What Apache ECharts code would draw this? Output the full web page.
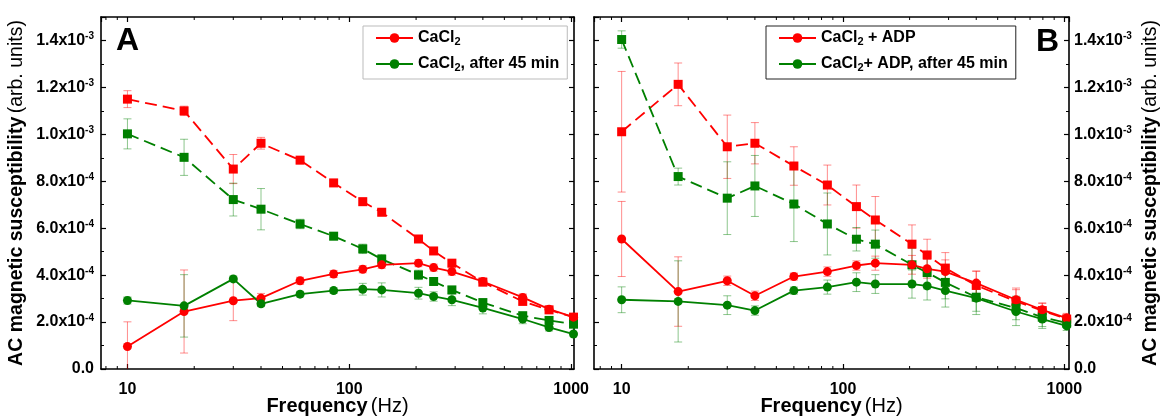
<!DOCTYPE html>
<html>
<head>
<meta charset="utf-8">
<script src="https://cdn.jsdelivr.net/npm/echarts@6/dist/echarts.min.js"></script>
<style>
  html, body { margin: 0; padding: 0; background: #fff; }
  #chart { width: 1162px; height: 416px; }
</style>
</head>
<body>
<div id="chart"></div>
<script>
// Measurement frequencies (Hz), shared by all curves
const frequencies = [10, 18, 30, 40, 60, 85, 115, 140, 205, 240, 290, 400, 605, 795, 1025];

// Susceptibility values in units of 10^-3 (arb. units)
// Panel A: CaCl2
const cacl2Squares      = [1.150, 1.100, 0.852, 0.962, 0.890, 0.793, 0.713, 0.668, 0.554, 0.503, 0.451, 0.370, 0.288, 0.252, 0.221];
const cacl2SquaresErr   = [0.036, 0.020, 0.062, 0.025, 0.015, 0.010, 0.015, 0.015, 0.015, 0.012, 0.012, 0.012, 0.012, 0.012, 0.010];
const cacl2LateSquares  = [1.002, 0.902, 0.722, 0.681, 0.618, 0.566, 0.512, 0.468, 0.401, 0.373, 0.337, 0.283, 0.227, 0.207, 0.191];
const cacl2LateSqErr    = [0.064, 0.077, 0.070, 0.088, 0.020, 0.015, 0.020, 0.020, 0.020, 0.015, 0.015, 0.015, 0.015, 0.015, 0.010];
const cacl2Circles      = [0.096, 0.245, 0.291, 0.302, 0.376, 0.405, 0.425, 0.444, 0.451, 0.432, 0.415, 0.373, 0.305, 0.255, 0.221];
const cacl2CirclesErr   = [0.105, 0.177, 0.085, 0.020, 0.015, 0.015, 0.015, 0.015, 0.015, 0.015, 0.015, 0.015, 0.015, 0.012, 0.010];
const cacl2LateCircles  = [0.292, 0.269, 0.384, 0.278, 0.319, 0.334, 0.340, 0.337, 0.323, 0.309, 0.295, 0.260, 0.213, 0.177, 0.149];
const cacl2LateCiErr    = [0.015, 0.133, 0.012, 0.012, 0.012, 0.012, 0.025, 0.030, 0.025, 0.020, 0.025, 0.025, 0.020, 0.015, 0.010];

// Panel B: CaCl2 + ADP
const adpSquares        = [1.011, 1.213, 0.947, 0.962, 0.865, 0.784, 0.692, 0.635, 0.532, 0.486, 0.430, 0.356, 0.288, 0.249, 0.213];
const adpSquaresErr     = [0.257, 0.091, 0.135, 0.088, 0.082, 0.085, 0.092, 0.100, 0.082, 0.067, 0.066, 0.062, 0.050, 0.030, 0.020];
const adpLateSquares    = [1.404, 0.820, 0.728, 0.780, 0.703, 0.618, 0.553, 0.532, 0.444, 0.411, 0.369, 0.306, 0.260, 0.221, 0.196];
const adpLateSqErr      = [0.037, 0.036, 0.155, 0.130, 0.160, 0.132, 0.050, 0.060, 0.070, 0.070, 0.070, 0.060, 0.050, 0.040, 0.020];
const adpCircles        = [0.554, 0.330, 0.376, 0.312, 0.394, 0.415, 0.441, 0.451, 0.444, 0.427, 0.415, 0.366, 0.295, 0.252, 0.217];
const adpCirclesErr     = [0.160, 0.148, 0.020, 0.020, 0.015, 0.020, 0.020, 0.030, 0.040, 0.040, 0.050, 0.050, 0.050, 0.030, 0.020];
const adpLateCircles    = [0.295, 0.288, 0.272, 0.249, 0.334, 0.349, 0.370, 0.362, 0.362, 0.354, 0.334, 0.302, 0.245, 0.213, 0.184];
const adpLateCiErr      = [0.055, 0.173, 0.040, 0.020, 0.015, 0.030, 0.040, 0.040, 0.060, 0.060, 0.070, 0.070, 0.060, 0.040, 0.020];

// Legend labels
const legendA = ['CaCl2', 'CaCl2, after 45 min'];
const legendB = ['CaCl2 + ADP', 'CaCl2+ ADP, after 45 min'];

// Minor decade ticks on the log axis
const minorFreqs = [8, 9, 20, 30, 40, 50, 60, 70, 80, 90, 200, 300, 400, 500, 600, 700, 800, 900];

const UNIT = 1e-3;
const Y_MAX = 1.5e-3;
const FONT = "'Liberation Sans', Arial, sans-serif";
const RED = '#ff0000';
const GREEN = '#008000';

function sciLabel(v) {
  if (v <= 1e-12) return '{b|0.0}';
  const e = Math.floor(Math.log10(v) + 1e-9);
  const m = v / Math.pow(10, e);
  return '{b|' + m.toFixed(1) + 'x10}{sup|' + e + '}';
}
function decadeLabel(v) {
  const l = Math.log10(v);
  return Math.abs(l - Math.round(l)) < 1e-6 ? String(Math.round(v)) : '';
}

const tickRich = {
  b: { fontFamily: FONT, fontWeight: 'bold', fontSize: 16, lineHeight: 18, color: '#000' },
  sup: { fontFamily: FONT, fontWeight: 'bold', fontSize: 10, lineHeight: 12, verticalAlign: 'top', color: '#000' }
};
const xTitleRich = {
  b: { fontFamily: FONT, fontWeight: 'bold', fontSize: 20, color: '#000' },
  n: { fontFamily: FONT, fontWeight: 'normal', fontSize: 20, color: '#000' }
};
const yTitleRich = {
  b: { fontFamily: FONT, fontWeight: 'bold', fontSize: 19.5, color: '#000' },
  n: { fontFamily: FONT, fontWeight: 'normal', fontSize: 19.5, color: '#000' }
};
const frameLine = { color: '#000', width: 1.6 };

function xAxisCfg(grid, pos, min, max, labelled) {
  return {
    type: 'log', logBase: 10, gridIndex: grid, position: pos, min: min, max: max,
    axisLine: { show: true, onZero: false, lineStyle: frameLine },
    axisTick: { show: true, inside: true, length: 5, lineStyle: { color: '#000', width: 1.2 } },
    axisLabel: {
      show: labelled, formatter: decadeLabel, margin: 13, showMinLabel: false, showMaxLabel: false,
      fontFamily: FONT, fontWeight: 'bold', fontSize: 16, color: '#000'
    },
    splitLine: { show: false },
    minorTick: { show: false },
    name: labelled ? '{b|Frequency} {n|(Hz)}' : '',
    nameLocation: 'middle', nameGap: 27, nameMoveOverlap: false,
    nameTextStyle: { rich: xTitleRich }
  };
}
function yAxisCfg(grid, pos, labelled, gap) {
  return {
    type: 'value', gridIndex: grid, position: pos, min: 0, max: Y_MAX, interval: 2e-4,
    axisLine: { show: true, onZero: false, lineStyle: frameLine },
    axisTick: { show: true, inside: true, length: 5, lineStyle: { color: '#000', width: 1.2 } },
    minorTick: { show: true, splitNumber: 2, length: 3, lineStyle: { color: '#000', width: 1 } },
    axisLabel: {
      show: labelled, formatter: sciLabel, margin: pos === 'left' ? 7 : 5,
      showMaxLabel: false, rich: tickRich
    },
    splitLine: { show: false },
    name: labelled ? '{b|AC magnetic susceptibility} {n|(arb. units)}' : '',
    nameLocation: 'middle', nameRotate: 90, nameGap: gap, nameMoveOverlap: false,
    nameTextStyle: { rich: yTitleRich }
  };
}

function lineSeries(name, xi, yi, vals, color, dashed, symbol) {
  return {
    type: 'line', name: name, xAxisIndex: xi, yAxisIndex: yi,
    data: frequencies.map((f, i) => [f, vals[i] * UNIT]),
    symbol: symbol, symbolSize: 9, showSymbol: true, clip: false,
    lineStyle: { color: color, width: 1.8, type: dashed ? [12, 6] : 'solid' },
    itemStyle: { color: color },
    emphasis: { disabled: true }, z: 3
  };
}
function errorSeries(xi, yi, vals, errs, color) {
  return {
    type: 'custom', xAxisIndex: xi, yAxisIndex: yi, silent: true, z: 2, clip: true,
    data: frequencies.map((f, i) => [f, (vals[i] - errs[i]) * UNIT, (vals[i] + errs[i]) * UNIT]),
    encode: { x: 0, y: [1, 2] },
    renderItem: function (params, api) {
      const lo = api.coord([api.value(0), api.value(1)]);
      const hi = api.coord([api.value(0), api.value(2)]);
      const w = 4;
      const style = { stroke: color, lineWidth: 1, opacity: 0.45 };
      return {
        type: 'group', children: [
          { type: 'line', shape: { x1: lo[0], y1: lo[1], x2: hi[0], y2: hi[1] }, style: style },
          { type: 'line', shape: { x1: lo[0] - w, y1: lo[1], x2: lo[0] + w, y2: lo[1] }, style: style },
          { type: 'line', shape: { x1: hi[0] - w, y1: hi[1], x2: hi[0] + w, y2: hi[1] }, style: style }
        ]
      };
    }
  };
}
function minorTickSeries(xi, yi) {
  return {
    type: 'custom', xAxisIndex: xi, yAxisIndex: yi, silent: true, z: 5,
    data: minorFreqs.map(f => [f, 0]),
    renderItem: function (params, api) {
      const b = api.coord([api.value(0), 0]);
      const t = api.coord([api.value(0), Y_MAX]);
      const style = { stroke: '#000', lineWidth: 1 };
      return {
        type: 'group', children: [
          { type: 'line', shape: { x1: b[0], y1: b[1], x2: b[0], y2: b[1] - 3 }, style: style },
          { type: 'line', shape: { x1: t[0], y1: t[1], x2: t[0], y2: t[1] + 3 }, style: style }
        ]
      };
    }
  };
}

function legendCfg(names, left, borderColor) {
  return {
    data: names, left: left, top: 26, orient: 'vertical', selectedMode: false,
    itemWidth: 37, itemHeight: 12, itemGap: 8, padding: [3, 8, 6, 12],
    borderColor: borderColor, borderWidth: 1, backgroundColor: '#fff',
    formatter: name => name.replace('CaCl2', 'CaCl{sub|2}'),
    textStyle: {
      fontFamily: FONT, fontWeight: 'bold', fontSize: 16, color: '#000', lineHeight: 18, padding: [0, 0, 0, 0],
      rich: {
        sub: { fontFamily: FONT, fontWeight: 'bold', fontSize: 11, lineHeight: 6, verticalAlign: 'bottom', color: '#000' }
      }
    }
  };
}

const chart = echarts.init(document.getElementById('chart'), null, { renderer: 'canvas' });
chart.setOption({
  animation: false,
  backgroundColor: '#fff',
  grid: [
    { left: 101, top: 17, width: 473, height: 352, outerBoundsMode: 'none', containLabel: false },
    { left: 594, top: 17, width: 475, height: 352, outerBoundsMode: 'none', containLabel: false }
  ],
  xAxis: [
    xAxisCfg(0, 'bottom', 7.6, 1030, true),
    xAxisCfg(0, 'top', 7.6, 1030, false),
    xAxisCfg(1, 'bottom', 7.5, 1050, true),
    xAxisCfg(1, 'top', 7.5, 1050, false)
  ],
  yAxis: [
    yAxisCfg(0, 'left', true, 74),
    yAxisCfg(0, 'right', false, 0),
    yAxisCfg(1, 'right', true, 72),
    yAxisCfg(1, 'left', false, 0)
  ],
  legend: [
    legendCfg(legendA, 363, '#bbbbbb'),
    legendCfg(legendB, 766, '#222222')
  ],
  graphic: [
    { type: 'text', left: 116, top: 25, style: { text: 'A', font: 'bold 32px ' + FONT, fill: '#000' } },
    { type: 'text', left: 1036, top: 26, style: { text: 'B', font: 'bold 32px ' + FONT, fill: '#000' } }
  ],
  series: [
    minorTickSeries(0, 0),
    minorTickSeries(2, 2),

    errorSeries(0, 0, cacl2Squares, cacl2SquaresErr, RED),
    errorSeries(0, 0, cacl2LateSquares, cacl2LateSqErr, GREEN),
    errorSeries(0, 0, cacl2Circles, cacl2CirclesErr, RED),
    errorSeries(0, 0, cacl2LateCircles, cacl2LateCiErr, GREEN),
    lineSeries('CaCl2 squares', 0, 0, cacl2Squares, RED, true, 'rect'),
    lineSeries('CaCl2 after 45 min squares', 0, 0, cacl2LateSquares, GREEN, true, 'rect'),
    lineSeries(legendA[0], 0, 0, cacl2Circles, RED, false, 'circle'),
    lineSeries(legendA[1], 0, 0, cacl2LateCircles, GREEN, false, 'circle'),

    errorSeries(2, 2, adpSquares, adpSquaresErr, RED),
    errorSeries(2, 2, adpLateSquares, adpLateSqErr, GREEN),
    errorSeries(2, 2, adpCircles, adpCirclesErr, RED),
    errorSeries(2, 2, adpLateCircles, adpLateCiErr, GREEN),
    lineSeries('CaCl2 + ADP squares', 2, 2, adpSquares, RED, true, 'rect'),
    lineSeries('CaCl2 + ADP after 45 min squares', 2, 2, adpLateSquares, GREEN, true, 'rect'),
    lineSeries(legendB[0], 2, 2, adpCircles, RED, false, 'circle'),
    lineSeries(legendB[1], 2, 2, adpLateCircles, GREEN, false, 'circle')
  ]
});
</script>
</body>
</html>
